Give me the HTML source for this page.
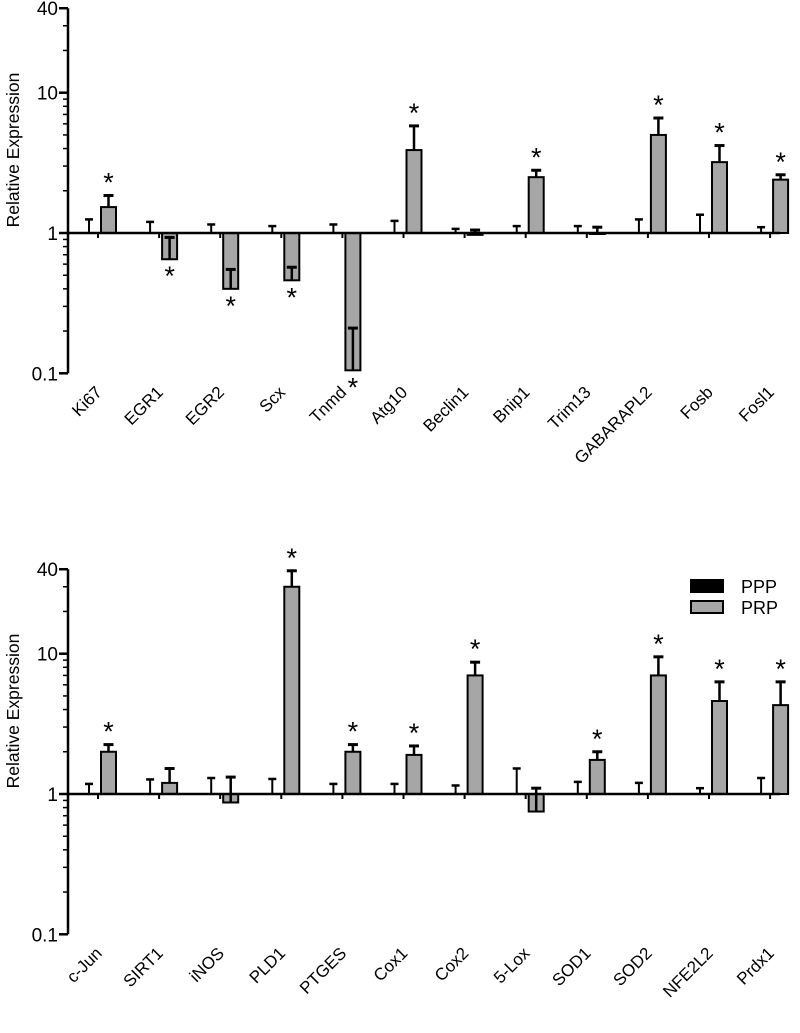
<!DOCTYPE html>
<html><head><meta charset="utf-8"><style>
body{margin:0;background:#fff}
svg text{font-family:"Liberation Sans",Arial,sans-serif;fill:#000}
</style></head><body>
<svg id="c" width="800" height="1028" xmlns="http://www.w3.org/2000/svg"></svg>
<script>
const topCats=["Ki67","EGR1","EGR2","Scx","Tnmd","Atg10","Beclin1","Bnip1","Trim13","GABARAPL2","Fosb","Fosl1"];
const topPPP=[1,1,1,1,1,1,1,1,1,1,1,1];
const topPPPErr=[1.25,1.2,1.15,1.12,1.15,1.22,1.07,1.12,1.12,1.25,1.35,1.1];
const topPRP=[1.53,0.65,0.4,0.46,0.105,3.9,0.97,2.5,1.0,5.0,3.2,2.4];
const topPRPErr=[1.85,0.93,0.55,0.57,0.21,5.8,1.05,2.8,1.1,6.6,4.2,2.6];
const topSig=[1,1,1,1,1,1,0,1,0,1,1,1];
const botCats=["c-Jun","SIRT1","iNOS","PLD1","PTGES","Cox1","Cox2","5-Lox","SOD1","SOD2","NFE2L2","Prdx1"];
const botPPP=[1,1,1,1,1,1,1,1,1,1,1,1];
const botPPPErr=[1.18,1.27,1.3,1.28,1.18,1.18,1.15,1.52,1.22,1.2,1.1,1.3];
const botPRP=[2.0,1.2,0.87,30,2.0,1.9,7.0,0.75,1.75,7.0,4.6,4.3];
const botPRPErr=[2.25,1.52,1.32,39,2.25,2.2,8.7,1.1,2.0,9.5,6.3,6.3];
const botSig=[1,0,0,1,1,1,1,0,1,1,1,1];
const yTicks=[40,10,1,0.1];
const yTickLabels=["40","10","1","0.1"];
const legendLabels=["PPP","PRP"];

const NS="http://www.w3.org/2000/svg";
const svg=document.getElementById('c');
function el(t,a,p){const e=document.createElementNS(NS,t);for(const k in a)e.setAttribute(k,a[k]);(p||svg).appendChild(e);return e;}

function panel(name,y1,cats,ppp,pppErr,prp,prpErr,sig){
  const g=el('g',{});
  
  
  const axX=68, x0=98, step=61.1, dec=140.3;
  const y=v=>y1-Math.log10(v)*dec;
  const xc=i=>x0+i*step;
  const ya=el('line',{x1:axX,x2:axX,y1:y(40),y2:y(0.1),stroke:'#000','stroke-width':2.5},g);
  
  
  for(let d=0.1;d<40;d*=10){for(let m=2;m<=9;m++){const v=d*m;if(v>40)break;
    el('line',{x1:axX-5,x2:axX,y1:y(v),y2:y(v),stroke:'#000','stroke-width':1.5},g);}}
  yTicks.forEach((v,i)=>{
    el('line',{x1:axX-9,x2:axX,y1:y(v),y2:y(v),stroke:'#000','stroke-width':2.5},g);
    const t=el('text',{x:axX-10,y:y(v)+7,'text-anchor':'end','font-size':19},g);
    t.textContent=yTickLabels[i];
    
    
  });
  const yt=el('text',{x:0,y:0,'text-anchor':'middle','font-size':17.5,transform:`translate(19,${y(1)-83}) rotate(-90)`},g);
  yt.textContent="Relative Expression";
  
  
  cats.forEach((c,i)=>{
    const cx=xc(i);
    const pe=el('g',{},g);
    
    
    const px=cx-9;
    el('rect',{x:px-1,y:Math.min(y(ppp[i]),y(1))-0.5,width:2,height:Math.abs(y(ppp[i])-y(1))+1,fill:'#000'},pe);
    el('line',{x1:px,x2:px,y1:y(ppp[i]),y2:y(pppErr[i]),stroke:'#000','stroke-width':2},pe);
    el('line',{x1:px-4,x2:px+4,y1:y(pppErr[i]),y2:y(pppErr[i]),stroke:'#000','stroke-width':2.5},pe);
    const b=el('g',{},g);
    
    
    const bx=cx+3,bw=15,bc=bx+bw/2;
    const yt1=Math.min(y(prp[i]),y(1)),yb=Math.max(y(prp[i]),y(1));
    el('rect',{x:bx,y:yt1,width:bw,height:Math.max(yb-yt1,1),fill:'#a6a6a6',stroke:'#000','stroke-width':2},b);
    el('line',{x1:bc,x2:bc,y1:y(prp[i]),y2:y(prpErr[i]),stroke:'#000','stroke-width':2.5},b);
    el('line',{x1:bc-5,x2:bc+5,y1:y(prpErr[i]),y2:y(prpErr[i]),stroke:'#000','stroke-width':3},b);
    if(sig[i]){
      const up=prp[i]>=1;
      const sy=up?y(prpErr[i])-4:y(prp[i])+26;
      const s=el('text',{x:bc,y:sy,'text-anchor':'middle','font-size':27},g);
      s.textContent='*';
      
      
    }
    el('line',{x1:cx,x2:cx,y1:y(1),y2:y(1)+5,stroke:'#000','stroke-width':2},g);
    const lt=el('text',{x:0,y:0,'text-anchor':'end','font-size':17,transform:`translate(${cx+5},${y(0.1)+20}) rotate(-45)`},g);
    lt.textContent=c;
    
    
  });
  const xa=el('line',{x1:axX,x2:780,y1:y(1),y2:y(1),stroke:'#000','stroke-width':2.5},g);
  
  
}
panel('top-panel',233,topCats,topPPP,topPPPErr,topPRP,topPRPErr,topSig);
panel('bottom-panel',794,botCats,botPPP,botPPPErr,botPRP,botPRPErr,botSig);

const lg=el('g',{});


const fills=['#000','#a6a6a6'];
legendLabels.forEach((l,i)=>{
  const e=el('g',{},lg);
  
  
  el('rect',{x:691,y:580+i*21,width:32,height:12,fill:fills[i],stroke:'#000','stroke-width':2},e);
  const t=el('text',{x:741,y:593+i*21,'font-size':18},e);
  t.textContent=l;
});
</script>
</body></html>
